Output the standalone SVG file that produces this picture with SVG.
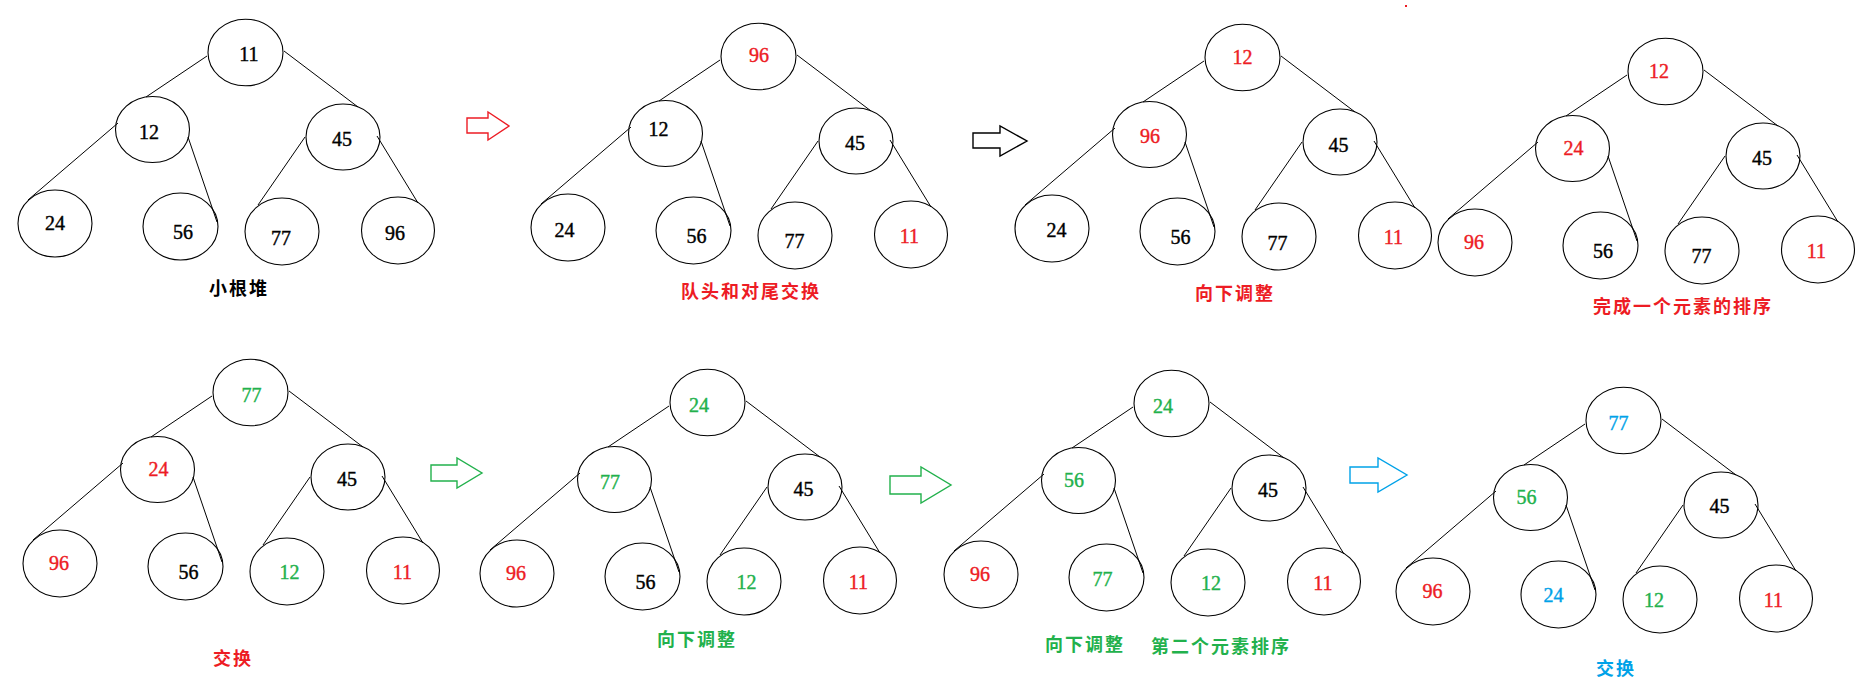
<svg xmlns="http://www.w3.org/2000/svg" xmlns:xlink="http://www.w3.org/1999/xlink" width="1865" height="689" viewBox="0 0 1865 689">
<style>
.n ellipse{fill:none;stroke:#000;stroke-width:1.1}
.n text{font-family:"Liberation Serif","Times New Roman",serif;font-size:20px;text-anchor:middle;stroke-width:0.4}
.k{fill:#000;stroke:#000}.r{fill:#ed1c24;stroke:#ed1c24}.g{fill:#22b14c;stroke:#22b14c}.b{fill:#00a2e8;stroke:#00a2e8}
.e line{stroke:#000;stroke-width:1}
.lbl{font-family:"Noto Sans CJK SC",sans-serif;font-size:18px;font-weight:bold;text-anchor:middle;letter-spacing:2px;stroke:none}
.arr{fill:none;stroke-width:1.4}
</style>
<defs>
<g id="edges" class="e">
<line x1="207" y1="56" x2="146" y2="97"/>
<line x1="284" y1="51" x2="358" y2="107"/>
<line x1="118" y1="123" x2="28" y2="200"/>
<line x1="188" y1="137" x2="217" y2="222"/>
<line x1="305" y1="137" x2="258" y2="205"/>
<line x1="377" y1="136" x2="418" y2="203"/>
</g>
</defs>
<rect width="1865" height="689" fill="#fff"/>
<g id="connectors">
<use xlink:href="#edges" x="0" y="0"/>
<use xlink:href="#edges" x="513" y="4"/>
<use xlink:href="#edges" x="997" y="5"/>
<use xlink:href="#edges" x="1420" y="19"/>
<use xlink:href="#edges" x="5" y="340"/>
<use xlink:href="#edges" x="462" y="350"/>
<use xlink:href="#edges" x="926" y="351"/>
<use xlink:href="#edges" x="1378" y="368"/>
</g>
<g id="arrows">
<polygon class="arr" stroke="#ed1c24" points="467,118 488,118 488,112 509,126 488,140 488,133 467,133"/>
<polygon class="arr" stroke="#000" points="973,133 1000,133 1000,126 1027,141 1000,156 1000,148 973,148"/>
<polygon class="arr" stroke="#22b14c" points="431,465 457,465 457,458 482,473 457,488 457,481 431,481"/>
<polygon class="arr" stroke="#22b14c" points="890,476 921,476 921,467 951,485 921,503 921,494 890,494"/>
<polygon class="arr" stroke="#00a2e8" points="1350,467 1378,467 1378,458 1407,475 1378,492 1378,483 1350,483"/>
</g>
<g id="tree1">
<g id="t1-root" class="n"><ellipse cx="245.5" cy="52.5" rx="37.5" ry="33.3"/><text class="k" x="249" y="61">11</text></g>
<g id="t1-l" class="n"><ellipse cx="152.5" cy="129.5" rx="37" ry="33"/><text class="k" x="149" y="139">12</text></g>
<g id="t1-r" class="n"><ellipse cx="343" cy="137" rx="37" ry="33"/><text class="k" x="342" y="146">45</text></g>
<g id="t1-ll" class="n"><ellipse cx="55" cy="223.5" rx="37" ry="33.5"/><text class="k" x="55" y="230">24</text></g>
<g id="t1-lr" class="n"><ellipse cx="180.5" cy="226.5" rx="37.5" ry="33.5"/><text class="k" x="183" y="239">56</text></g>
<g id="t1-rl" class="n"><ellipse cx="282" cy="231.5" rx="37" ry="33.5"/><text class="k" x="281" y="245">77</text></g>
<g id="t1-rr" class="n"><ellipse cx="398" cy="230.5" rx="36.5" ry="33.5"/><text class="k" x="395" y="240">96</text></g>
</g>
<g id="tree2" transform="translate(513,4)">
<g id="t2-root" class="n"><ellipse cx="245.5" cy="52.5" rx="37.5" ry="33.3"/><text class="r" x="246" y="58">96</text></g>
<g id="t2-l" class="n"><ellipse cx="152.5" cy="129.5" rx="37" ry="33"/><text class="k" x="145.5" y="132">12</text></g>
<g id="t2-r" class="n"><ellipse cx="343" cy="137" rx="37" ry="33"/><text class="k" x="342" y="146">45</text></g>
<g id="t2-ll" class="n"><ellipse cx="55" cy="223.5" rx="37" ry="33.5"/><text class="k" x="51.5" y="233">24</text></g>
<g id="t2-lr" class="n"><ellipse cx="180.5" cy="226.5" rx="37.5" ry="33.5"/><text class="k" x="183.5" y="239">56</text></g>
<g id="t2-rl" class="n"><ellipse cx="282" cy="231.5" rx="37" ry="33.5"/><text class="k" x="281.5" y="244">77</text></g>
<g id="t2-rr" class="n"><ellipse cx="398" cy="230.5" rx="36.5" ry="33.5"/><text class="r" x="396.5" y="239">11</text></g>
</g>
<g id="tree3" transform="translate(997,5)">
<g id="t3-root" class="n"><ellipse cx="245.5" cy="52.5" rx="37.5" ry="33.3"/><text class="r" x="245.5" y="59">12</text></g>
<g id="t3-l" class="n"><ellipse cx="152.5" cy="129.5" rx="37" ry="33"/><text class="r" x="153" y="138">96</text></g>
<g id="t3-r" class="n"><ellipse cx="343" cy="137" rx="37" ry="33"/><text class="k" x="341.5" y="147">45</text></g>
<g id="t3-ll" class="n"><ellipse cx="55" cy="223.5" rx="37" ry="33.5"/><text class="k" x="59.5" y="232">24</text></g>
<g id="t3-lr" class="n"><ellipse cx="180.5" cy="226.5" rx="37.5" ry="33.5"/><text class="k" x="183.5" y="239">56</text></g>
<g id="t3-rl" class="n"><ellipse cx="282" cy="231.5" rx="37" ry="33.5"/><text class="k" x="280.5" y="245">77</text></g>
<g id="t3-rr" class="n"><ellipse cx="398" cy="230.5" rx="36.5" ry="33.5"/><text class="r" x="396.5" y="239">11</text></g>
</g>
<g id="tree4" transform="translate(1420,19)">
<g id="t4-root" class="n"><ellipse cx="245.5" cy="52.5" rx="37.5" ry="33.3"/><text class="r" x="239" y="59">12</text></g>
<g id="t4-l" class="n"><ellipse cx="152.5" cy="129.5" rx="37" ry="33"/><text class="r" x="153.5" y="136">24</text></g>
<g id="t4-r" class="n"><ellipse cx="343" cy="137" rx="37" ry="33"/><text class="k" x="342" y="146">45</text></g>
<g id="t4-ll" class="n"><ellipse cx="55" cy="223.5" rx="37" ry="33.5"/><text class="r" x="54" y="230">96</text></g>
<g id="t4-lr" class="n"><ellipse cx="180.5" cy="226.5" rx="37.5" ry="33.5"/><text class="k" x="183" y="239">56</text></g>
<g id="t4-rl" class="n"><ellipse cx="282" cy="231.5" rx="37" ry="33.5"/><text class="k" x="281.5" y="244">77</text></g>
<g id="t4-rr" class="n"><ellipse cx="398" cy="230.5" rx="36.5" ry="33.5"/><text class="r" x="396.5" y="239">11</text></g>
</g>
<g id="tree5" transform="translate(5,340)">
<g id="t5-root" class="n"><ellipse cx="245.5" cy="52.5" rx="37.5" ry="33.3"/><text class="g" x="246.5" y="62">77</text></g>
<g id="t5-l" class="n"><ellipse cx="152.5" cy="129.5" rx="37" ry="33"/><text class="r" x="153.5" y="136">24</text></g>
<g id="t5-r" class="n"><ellipse cx="343" cy="137" rx="37" ry="33"/><text class="k" x="342" y="146">45</text></g>
<g id="t5-ll" class="n"><ellipse cx="55" cy="223.5" rx="37" ry="33.5"/><text class="r" x="54" y="230">96</text></g>
<g id="t5-lr" class="n"><ellipse cx="180.5" cy="226.5" rx="37.5" ry="33.5"/><text class="k" x="183.5" y="239">56</text></g>
<g id="t5-rl" class="n"><ellipse cx="282" cy="231.5" rx="37" ry="33.5"/><text class="g" x="284.5" y="239">12</text></g>
<g id="t5-rr" class="n"><ellipse cx="398" cy="230.5" rx="36.5" ry="33.5"/><text class="r" x="397.5" y="239">11</text></g>
</g>
<g id="tree6" transform="translate(462,350)">
<g id="t6-root" class="n"><ellipse cx="245.5" cy="52.5" rx="37.5" ry="33.3"/><text class="g" x="237" y="62">24</text></g>
<g id="t6-l" class="n"><ellipse cx="152.5" cy="129.5" rx="37" ry="33"/><text class="g" x="148" y="139">77</text></g>
<g id="t6-r" class="n"><ellipse cx="343" cy="137" rx="37" ry="33"/><text class="k" x="341.5" y="146">45</text></g>
<g id="t6-ll" class="n"><ellipse cx="55" cy="223.5" rx="37" ry="33.5"/><text class="r" x="54" y="230">96</text></g>
<g id="t6-lr" class="n"><ellipse cx="180.5" cy="226.5" rx="37.5" ry="33.5"/><text class="k" x="183.5" y="239">56</text></g>
<g id="t6-rl" class="n"><ellipse cx="282" cy="231.5" rx="37" ry="33.5"/><text class="g" x="284.5" y="239">12</text></g>
<g id="t6-rr" class="n"><ellipse cx="398" cy="230.5" rx="36.5" ry="33.5"/><text class="r" x="396.5" y="239">11</text></g>
</g>
<g id="tree7" transform="translate(926,351)">
<g id="t7-root" class="n"><ellipse cx="245.5" cy="52.5" rx="37.5" ry="33.3"/><text class="g" x="237" y="62">24</text></g>
<g id="t7-l" class="n"><ellipse cx="152.5" cy="129.5" rx="37" ry="33"/><text class="g" x="148" y="136">56</text></g>
<g id="t7-r" class="n"><ellipse cx="343" cy="137" rx="37" ry="33"/><text class="k" x="342" y="146">45</text></g>
<g id="t7-ll" class="n"><ellipse cx="55" cy="223.5" rx="37" ry="33.5"/><text class="r" x="54" y="230">96</text></g>
<g id="t7-lr" class="n"><ellipse cx="180.5" cy="226.5" rx="37.5" ry="33.5"/><text class="g" x="176.5" y="235">77</text></g>
<g id="t7-rl" class="n"><ellipse cx="282" cy="231.5" rx="37" ry="33.5"/><text class="g" x="285" y="239">12</text></g>
<g id="t7-rr" class="n"><ellipse cx="398" cy="230.5" rx="36.5" ry="33.5"/><text class="r" x="397" y="239">11</text></g>
</g>
<g id="tree8" transform="translate(1378,368)">
<g id="t8-root" class="n"><ellipse cx="245.5" cy="52.5" rx="37.5" ry="33.3"/><text class="b" x="240.5" y="62">77</text></g>
<g id="t8-l" class="n"><ellipse cx="152.5" cy="129.5" rx="37" ry="33"/><text class="g" x="148.5" y="136">56</text></g>
<g id="t8-r" class="n"><ellipse cx="343" cy="137" rx="37" ry="33"/><text class="k" x="341.5" y="145">45</text></g>
<g id="t8-ll" class="n"><ellipse cx="55" cy="223.5" rx="37" ry="33.5"/><text class="r" x="54.5" y="230">96</text></g>
<g id="t8-lr" class="n"><ellipse cx="180.5" cy="226.5" rx="37.5" ry="33.5"/><text class="b" x="175.5" y="234">24</text></g>
<g id="t8-rl" class="n"><ellipse cx="282" cy="231.5" rx="37" ry="33.5"/><text class="g" x="276" y="239">12</text></g>
<g id="t8-rr" class="n"><ellipse cx="398" cy="230.5" rx="36.5" ry="33.5"/><text class="r" x="395.5" y="239">11</text></g>
</g>
<g id="labels">
<text class="lbl k" x="239" y="295">小根堆</text>
<text class="lbl r" x="751" y="298">队头和对尾交换</text>
<text class="lbl r" x="1235" y="300">向下调整</text>
<text class="lbl r" x="1683" y="313">完成一个元素的排序</text>
<text class="lbl r" x="233" y="665">交换</text>
<text class="lbl g" x="697" y="646">向下调整</text>
<text class="lbl g" x="1085" y="651">向下调整</text>
<text class="lbl g" x="1221" y="653">第二个元素排序</text>
<text class="lbl b" x="1616" y="675">交换</text>
</g>
<rect x="1405" y="5" width="2" height="2" fill="#ed1c24"/>
</svg>
